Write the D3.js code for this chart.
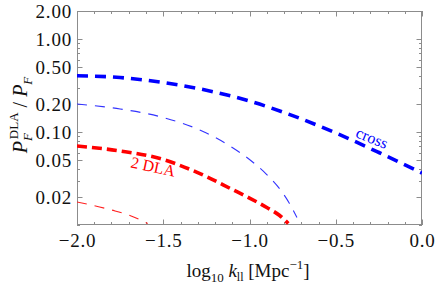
<!DOCTYPE html>
<html><head><meta charset="utf-8">
<script src="https://cdn.jsdelivr.net/npm/d3@7"></script>
<style>
body{margin:0;background:#fff}
svg{display:block}
svg text{font-family:"Liberation Serif","Times New Roman",serif !important}
</style>
</head><body>
<script>
// data
const crossX = [-2.0, -1.75, -1.5, -1.25, -1.0, -0.75, -0.5, -0.25, 0.0];
const crossY = [0.403, 0.385, 0.340, 0.281, 0.215, 0.150, 0.0976, 0.0602, 0.0362];
const crossThinX = [-2.0, -1.75, -1.5, -1.25, -1.1, -1.0, -0.9, -0.82, -0.77, -0.725];
const crossThinY = [0.200, 0.1768, 0.1432, 0.0976, 0.0681, 0.0506, 0.0349, 0.0238, 0.01724, 0.01205];
const dlaX = [-2.0, -1.75, -1.5, -1.35, -1.25, -1.1, -1.0, -0.9, -0.825, -0.775];
const dlaY = [0.0707, 0.0625, 0.0506, 0.0400, 0.0332, 0.0241, 0.0195, 0.01543, 0.01265, 0.01038];
const dlaThinX = [-2.0, -1.8, -1.7, -1.59];
const dlaThinY = [0.0177, 0.0145, 0.0128, 0.0104];
const xTicks = [-2.0, -1.5, -1.0, -0.5, 0.0];
const yTicks = [0.02, 0.05, 0.10, 0.20, 0.50, 1.00, 2.00];

const W = 436, H = 286;
const m = {l:77, r:14, t:11, b:61};
const FONT = '"Liberation Serif", "Times New Roman", serif';
const svg = d3.select("body").append("svg").attr("width", W).attr("height", H)
  .attr("font-family", FONT);
const x = d3.scaleLinear().domain([-2, 0]).range([m.l, W - m.r]);
const y = d3.scaleLog().domain([0.01, 2]).range([H - m.b, m.t]);

svg.append("clipPath").attr("id", "clip").append("rect")
  .attr("x", m.l).attr("y", m.t).attr("width", W - m.l - m.r).attr("height", H - m.t - m.b);

// minor ticks
const xMinor = d3.range(-20, 1).map(d => d / 10);
const yMinor = [];
[0.01, 0.1, 1].forEach(p => { for (let k = 1; k <= 9; k++) { const v = +(k * p).toPrecision(3); if (v >= 0.01 && v <= 2) yMinor.push(v); } });

const frameCol = "#8c8c8c";
const g = svg.append("g");
function tickLines(vals, len) {
  vals.forEach(v => {
    const xv = Math.round(x(v)) + 0.5;
    g.append("line").attr("x1", xv).attr("x2", xv).attr("y1", H - m.b).attr("y2", H - m.b - len).attr("stroke", frameCol);
    g.append("line").attr("x1", xv).attr("x2", xv).attr("y1", m.t).attr("y2", m.t + len).attr("stroke", frameCol);
  });
}
tickLines(xMinor.filter(v => !xTicks.some(t => Math.abs(t - v) < 1e-9)), 3);
tickLines(xTicks, 5.5);
function yTickLines(vals, len) {
  vals.forEach(v => {
    const yv = Math.round(y(v)) + 0.5;
    g.append("line").attr("y1", yv).attr("y2", yv).attr("x1", m.l).attr("x2", m.l + len).attr("stroke", frameCol);
    g.append("line").attr("y1", yv).attr("y2", yv).attr("x1", W - m.r).attr("x2", W - m.r - len).attr("stroke", frameCol);
  });
}
yTickLines(yMinor.filter(v => !yTicks.some(t => Math.abs(t - v) < 1e-9)), 3);
yTickLines(yTicks, 5.5);

g.append("rect").attr("x", m.l + 0.5).attr("y", m.t + 0.5)
  .attr("width", W - m.l - m.r - 1).attr("height", H - m.t - m.b - 1)
  .attr("fill", "none").attr("stroke", frameCol);

// axes labels via d3 axis
const xAxis = d3.axisBottom(x).tickValues(xTicks).tickFormat(d3.format(".1f")).tickSize(0).tickPadding(9);
svg.append("g").attr("transform", `translate(0,${H - m.b})`).call(xAxis)
  .attr("font-family", FONT)
  .call(s => s.select(".domain").remove())
  .selectAll("text").attr("font-size", 19).attr("letter-spacing", 0.8).attr("fill", "#111");
const yAxis = d3.axisLeft(y).tickValues(yTicks).tickFormat(d3.format(".2f")).tickSize(0).tickPadding(5);
svg.append("g").attr("transform", `translate(${m.l},0)`).call(yAxis)
  .attr("font-family", FONT)
  .call(s => s.select(".domain").remove())
  .selectAll("text").attr("font-size", 19).attr("letter-spacing", 0.8).attr("fill", "#111");

// curves
const line = d3.line().x(d => x(d[0])).y(d => y(d[1])).curve(d3.curveMonotoneX);
const plot = svg.append("g").attr("clip-path", "url(#clip)");
function draw(xs, ys, color, w, dash) {
  plot.append("path").datum(xs.map((v, i) => [v, ys[i]])).attr("d", line)
    .attr("fill", "none").attr("stroke", color).attr("stroke-width", w).attr("stroke-dasharray", dash);
}
draw(crossThinX, crossThinY, "#3333ff", 1.1, "10,8");
draw(dlaThinX, dlaThinY, "#ff2020", 1.1, "10,8");
draw(crossX, crossY, "#0000ff", 3.6, "11,7");
draw(dlaX, dlaY, "#ff0000", 3.6, "10,5");

// curve labels
svg.append("text").attr("transform", "translate(370,143) rotate(22)").attr("text-anchor", "middle")
  .attr("font-size", 16).attr("fill", "#0000ff").text("cross");
svg.append("text").attr("transform", "translate(152,172) rotate(12)").attr("text-anchor", "middle")
  .attr("font-size", 16).attr("fill", "#ff0000").text("2 DLA");

// y label
const yl = svg.append("text").attr("transform", "translate(27,115) rotate(-90)").attr("text-anchor", "middle")
  .attr("font-size", 20).attr("fill", "#111");
yl.append("tspan").attr("font-style", "italic").text("P");
yl.append("tspan").attr("font-style", "italic").attr("font-size", 13).attr("dy", 5).text("F");
yl.append("tspan").attr("font-size", 13).attr("dx", -6).attr("dy", -14).text("DLA");
yl.append("tspan").attr("dy", 9).text(" / ");
yl.append("tspan").attr("font-style", "italic").text("P");
yl.append("tspan").attr("font-style", "italic").attr("font-size", 13).attr("dy", 5).text("F");

// x label
const xl = svg.append("text").attr("x", 248).attr("y", 277).attr("text-anchor", "middle")
  .attr("font-size", 19).attr("fill", "#111");
xl.append("tspan").text("log");
xl.append("tspan").attr("font-size", 13).attr("dy", 5).text("10");
xl.append("tspan").attr("dy", -5).text(" ");
xl.append("tspan").attr("font-style", "italic").text("k");
xl.append("tspan").attr("font-size", 12).attr("dy", 4).text("ll");
xl.append("tspan").attr("dy", -4).text(" [Mpc");
xl.append("tspan").attr("font-size", 13).attr("dy", -8).text("−1");
xl.append("tspan").attr("dy", 8).text("]");
</script>
</body></html>
